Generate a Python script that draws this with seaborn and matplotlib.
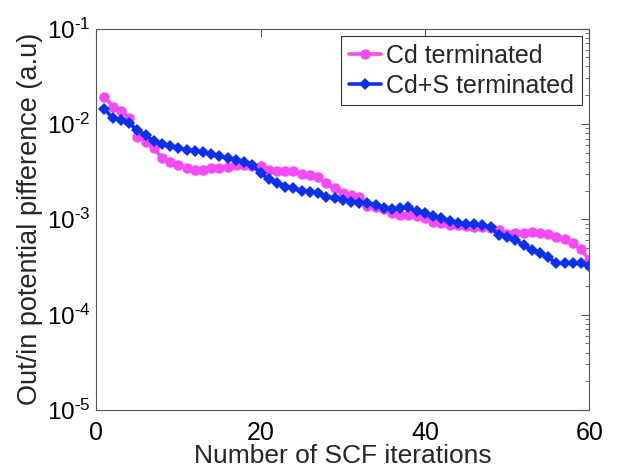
import numpy as np
import pandas as pd
import matplotlib
matplotlib.use("Agg")
import matplotlib.pyplot as plt
import seaborn as sns
from matplotlib.ticker import LogLocator, FixedLocator, FuncFormatter

iterations = list(range(1, 61))

cd_terminated = [
    0.01934, 0.01519, 0.01369, 0.01164, 0.007355, 0.006520, 0.005559, 0.004366, 0.003945, 0.003714,
    0.003428, 0.003290, 0.003290, 0.003428, 0.003428, 0.003495, 0.003669, 0.003714, 0.003625, 0.003581,
    0.003290, 0.003236, 0.003236, 0.003174, 0.002987, 0.002916, 0.002799, 0.002385, 0.002114, 0.001874,
    0.001799, 0.001701, 0.001379, 0.001356, 0.001273, 0.001156, 0.001109, 0.001109, 0.001083, 0.001024,
    0.000944, 0.000908, 0.000872, 0.000872, 0.000851, 0.000837, 0.000824, 0.000805, 0.000772, 0.000701,
    0.000713, 0.000724, 0.000730, 0.000724, 0.000701, 0.000657, 0.000617, 0.000560, 0.000484, 0.000374,
]

cds_terminated = [
    0.01437, 0.01148, 0.01102, 0.01017, 0.008650, 0.007665, 0.006630, 0.006124, 0.005920, 0.005641,
    0.005337, 0.005247, 0.005085, 0.004786, 0.004583, 0.004419, 0.004192, 0.004022, 0.003714, 0.003038,
    0.002628, 0.002422, 0.002198, 0.002104, 0.001995, 0.001948, 0.001874, 0.001726, 0.001661, 0.001594,
    0.001530, 0.001493, 0.001493, 0.001413, 0.001304, 0.001282, 0.001298, 0.001329, 0.001207, 0.001173,
    0.001075, 0.001024, 0.000960, 0.000915, 0.000899, 0.000882, 0.000861, 0.000820, 0.000684, 0.000657,
    0.000607, 0.000537, 0.000476, 0.000440, 0.000399, 0.000345, 0.000345, 0.000345, 0.000345, 0.000324,
]

series_names = ["Cd terminated", "Cd+S terminated"]
x_ticks = [0, 20, 40, 60]
x_label = "Number of SCF iterations"
y_label = "Out/in potential pifference (a.u)"

sns.set_style("white")
plt.rcParams["font.family"] = ["Liberation Sans", "DejaVu Sans"]
plt.rcParams["mathtext.fontset"] = "custom"
plt.rcParams["mathtext.rm"] = "Liberation Sans"
plt.rcParams["mathtext.it"] = "Liberation Sans:italic"

df = pd.DataFrame({
    "iter": iterations * 2,
    "value": cd_terminated + cds_terminated,
    "series": [series_names[0]] * 60 + [series_names[1]] * 60,
})

fig = plt.figure(figsize=(6.17, 4.68), dpi=100)
ax = fig.add_axes([0.156, 0.124, 0.799, 0.815])

colors = {series_names[0]: "#f64af6", series_names[1]: "#0b30f0"}
markers = {series_names[0]: "o", series_names[1]: "D"}
sizes = {series_names[0]: 7.5, series_names[1]: 6.3}

for name in series_names:
    sub = df[df["series"] == name]
    sns.lineplot(data=sub, x="iter", y="value", ax=ax, color=colors[name],
                 marker=markers[name], markersize=sizes[name], markeredgewidth=0,
                 linewidth=2.6, label=name, legend=False)

ax.set_yscale("log")
ax.set_xlim(0, 60)
ax.set_ylim(1e-5, 1e-1)
ax.xaxis.set_major_locator(FixedLocator(x_ticks))
ax.yaxis.set_major_locator(LogLocator(base=10, numticks=10))
ax.yaxis.set_minor_locator(LogLocator(base=10, subs=np.arange(2, 10), numticks=10))


def log_fmt(v, pos):
    e = int(round(np.log10(v)))
    sign = r"\text{-}" if e < 0 else ""
    return r"$\mathregular{10^{%s%d}}$" % (sign, abs(e))


ax.yaxis.set_major_formatter(FuncFormatter(log_fmt))

for s in ax.spines.values():
    s.set_color("#555555")
    s.set_linewidth(0.8)
ax.tick_params(axis="both", which="both", direction="in", top=True, right=True,
               colors="#555555", labelcolor="black")
ax.tick_params(axis="x", which="major", labelsize=18)
ax.tick_params(axis="y", which="major", labelsize=17.5)
ax.tick_params(axis="both", which="major", length=6, width=0.8)
ax.tick_params(axis="y", which="minor", length=3, width=0.6)
ax.tick_params(axis="x", which="major", pad=8)
ax.tick_params(axis="y", which="major", pad=4)

ax.set_xlabel(x_label, fontsize=19, labelpad=-1)
ax.set_ylabel(y_label, fontsize=19.5, labelpad=3)

leg = ax.legend(loc="upper right", fontsize=18, frameon=True, fancybox=False,
                handlelength=1.3, handletextpad=0.2, borderpad=0.3,
                labelspacing=0.25, borderaxespad=0.3)
leg.get_frame().set_edgecolor("black")
leg.get_frame().set_linewidth(0.8)

fig.savefig("out.png", dpi=100)
